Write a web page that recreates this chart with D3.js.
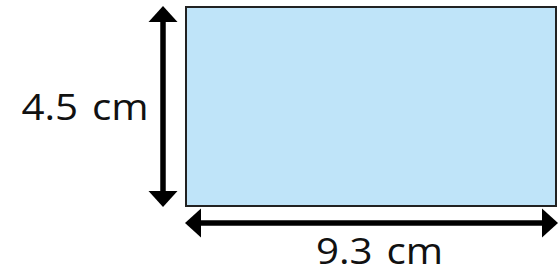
<!DOCTYPE html>
<html>
<head>
<meta charset="utf-8">
<script src="https://cdn.jsdelivr.net/npm/d3@7"></script>
<style>
  html, body { margin: 0; padding: 0; background: #fff; }
  svg { display: block; }
</style>
</head>
<body>
<svg id="chart" width="560" height="273"></svg>
<script>
'use strict'

// rectangle dimensions (cm)
const dims = ['width', 'height']
const dimValues = [9.3, 4.5]
const dimLabels = ['9.3 cm', '4.5 cm']

const svg = d3.select('#chart')

const x = d3.scaleLinear().domain([0, dimValues[0]]).range([186, 556])
const y = d3.scaleLinear().domain([0, dimValues[1]]).range([206, 7])

// blue rectangle
svg.append('rect')
	.attr('x', x(0))
	.attr('y', y(dimValues[1]))
	.attr('width', x(dimValues[0]) - x(0))
	.attr('height', y(0) - y(dimValues[1]))
	.attr('fill', '#bfe4f9')
	.attr('stroke', '#222')
	.attr('stroke-width', 2)

const headLen = 16
const headHalf = 14.5
const shaft = 5.5

function arrowH(g, x0, x1, yy) {
	g.append('line')
		.attr('x1', x0 + headLen - 1).attr('x2', x1 - headLen + 1)
		.attr('y1', yy).attr('y2', yy)
		.attr('stroke', '#000').attr('stroke-width', shaft)
	g.append('path')
		.attr('d', `M${x0},${yy}L${x0 + headLen},${yy - headHalf}L${x0 + headLen},${yy + headHalf}Z`)
		.attr('fill', '#000')
	g.append('path')
		.attr('d', `M${x1},${yy}L${x1 - headLen},${yy - headHalf}L${x1 - headLen},${yy + headHalf}Z`)
		.attr('fill', '#000')
}

function arrowV(g, y0, y1, xx) {
	g.append('line')
		.attr('y1', y0 + headLen - 1).attr('y2', y1 - headLen + 1)
		.attr('x1', xx).attr('x2', xx)
		.attr('stroke', '#000').attr('stroke-width', shaft)
	g.append('path')
		.attr('d', `M${xx},${y0}L${xx - headHalf},${y0 + headLen}L${xx + headHalf},${y0 + headLen}Z`)
		.attr('fill', '#000')
	g.append('path')
		.attr('d', `M${xx},${y1}L${xx - headHalf},${y1 - headLen}L${xx + headHalf},${y1 - headLen}Z`)
		.attr('fill', '#000')
}

const arrows = svg.append('g').attr('class', 'arrows')
arrowH(arrows, x(0) - 1, x(dimValues[0]) + 2, y(0) + 17)
arrowV(arrows, y(dimValues[1]) - 1, y(0) + 1, x(0) - 23)

const font = '"Open Sans", "Noto Sans", sans-serif'

// label, fitted to the target ink width
function label(text, cx, baseline, targetW) {
	const t = svg.append('text')
		.attr('text-anchor', 'middle')
		.attr('font-family', font)
		.attr('font-size', 36)
		.attr('word-spacing', 3)
		.attr('fill', '#111')
		.text(text)
	const w = t.node().getComputedTextLength()
	const k = Math.min(1.12, targetW / (w - 3))
	t.attr('transform', `translate(${cx},${baseline}) scale(${k},1)`)
}

label(dimLabels[0], 379.5, 263.5, 125)
label(dimLabels[1], 85, 120, 125)
</script>
</body>
</html>
